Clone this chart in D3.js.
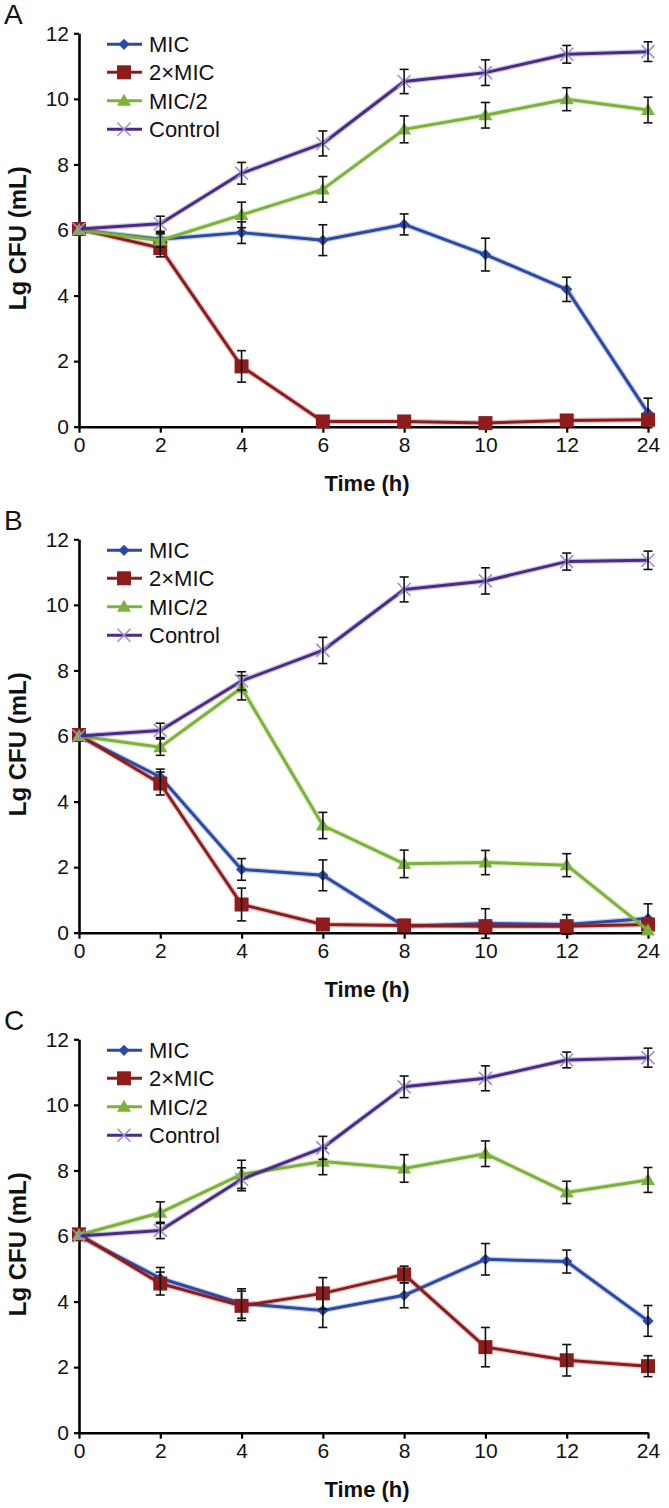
<!DOCTYPE html>
<html>
<head>
<meta charset="utf-8">
<script src="https://cdn.jsdelivr.net/npm/d3@7"></script>
<style>
html,body{margin:0;padding:0;background:#fff;}
svg{display:block;}
text{font-family:"Liberation Sans",Arial,sans-serif;}
</style>
</head>
<body>
<svg id="chart" width="669" height="1508"></svg>
<script>
// ---- data ----
const categories = ["0","2","4","6","8","10","12","24"];
const yTicks = [0,2,4,6,8,10,12];
const seriesNames = ["MIC","2\u00d7MIC","MIC/2","Control"];
const panelLabels = ["A","B","C"];

// Panel A
const A_MIC      = [6.0, 5.72, 5.92, 5.69, 6.17, 5.25, 4.19, 0.42];
const A_MIC_err  = [0.1, 0.2, 0.33, 0.47, 0.32, 0.5, 0.37, 0.45];
const A_2MIC     = [6.03, 5.45, 1.84, 0.16, 0.16, 0.11, 0.19, 0.21];
const A_2MIC_err = [0.1, 0.27, 0.48, 0.0, 0.0, 0.0, 0.0, 0.0];
const A_HALF     = [6.0, 5.68, 6.46, 7.24, 9.07, 9.5, 9.99, 9.66];
const A_HALF_err = [0.1, 0.2, 0.39, 0.39, 0.41, 0.39, 0.35, 0.39];
const A_CTRL     = [6.03, 6.19, 7.73, 8.64, 10.53, 10.8, 11.36, 11.44];
const A_CTRL_err = [0.1, 0.23, 0.33, 0.38, 0.37, 0.39, 0.27, 0.3];

// Panel B
const B_MIC      = [6.0, 4.75, 1.93, 1.75, 0.2, 0.28, 0.25, 0.43];
const B_MIC_err  = [0.1, 0.24, 0.33, 0.47, 0.2, 0.45, 0.3, 0.45];
const B_2MIC     = [6.03, 4.55, 0.86, 0.25, 0.22, 0.2, 0.2, 0.25];
const B_2MIC_err = [0.1, 0.35, 0.5, 0.0, 0.0, 0.0, 0.0, 0.0];
const B_HALF     = [6.0, 5.66, 7.47, 3.27, 2.1, 2.14, 2.06, 0.07];
const B_HALF_err = [0.1, 0.25, 0.37, 0.4, 0.42, 0.37, 0.35, 0.0];
const B_CTRL     = [6.0, 6.17, 7.68, 8.61, 10.47, 10.73, 11.32, 11.36];
const B_CTRL_err = [0.1, 0.22, 0.28, 0.4, 0.38, 0.4, 0.26, 0.28];

// Panel C
const C_MIC      = [6.0, 4.71, 3.94, 3.73, 4.19, 5.29, 5.22, 3.41];
const C_MIC_err  = [0.1, 0.33, 0.45, 0.52, 0.38, 0.48, 0.35, 0.47];
const C_2MIC     = [6.05, 4.55, 3.87, 4.25, 4.83, 2.61, 2.21, 2.03];
const C_2MIC_err = [0.1, 0.35, 0.45, 0.48, 0.25, 0.6, 0.48, 0.32];
const C_HALF     = [6.03, 6.71, 7.88, 8.27, 8.06, 8.51, 7.33, 7.71];
const C_HALF_err = [0.1, 0.33, 0.43, 0.4, 0.42, 0.39, 0.34, 0.38];
const C_CTRL     = [6.0, 6.17, 7.73, 8.69, 10.55, 10.81, 11.37, 11.44];
const C_CTRL_err = [0.1, 0.25, 0.35, 0.35, 0.33, 0.38, 0.24, 0.29];

const panels = [
  {label:"A", series:[[A_MIC,A_MIC_err],[A_2MIC,A_2MIC_err],[A_HALF,A_HALF_err],[A_CTRL,A_CTRL_err]]},
  {label:"B", series:[[B_MIC,B_MIC_err],[B_2MIC,B_2MIC_err],[B_HALF,B_HALF_err],[B_CTRL,B_CTRL_err]]},
  {label:"C", series:[[C_MIC,C_MIC_err],[C_2MIC,C_2MIC_err],[C_HALF,C_HALF_err],[C_CTRL,C_CTRL_err]]}
];

// ---- styles ----
const colors = ["#2b4aa8","#8e1c1c","#7db23a","#4b2a8a"];
const markerFill = ["#2b4aa8","#8e1c1c","#7db23a","#9c8fd6"];
const panelTops = [33.3, 539.3, 1039.3];
const plotH = 393.4;
const xLeft = 79, xRight = 648;

const svg = d3.select("#chart");

const x = d3.scalePoint().domain(categories).range([xLeft, xRight]);

function drawMarker(g, type, cx, cy, i) {
  if (type === 0) {
    g.append("path").attr("d", d3.symbol(d3.symbolDiamond2, 80)())
      .attr("transform", `translate(${cx},${cy})`).attr("fill", markerFill[i]);
  } else if (type === 1) {
    g.append("rect").attr("x", cx-7).attr("y", cy-7).attr("width", 14).attr("height", 14)
      .attr("fill", markerFill[i]);
  } else if (type === 2) {
    g.append("path").attr("d", d3.symbol(d3.symbolTriangle, 85)())
      .attr("transform", `translate(${cx},${cy+1})`).attr("fill", markerFill[i]);
  } else {
    g.append("path").attr("d", `M${cx-6.5},${cy-6.5}L${cx+6.5},${cy+6.5}M${cx-6.5},${cy+6.5}L${cx+6.5},${cy-6.5}`)
      .attr("stroke", markerFill[i]).attr("stroke-width", 1.6).attr("fill","none");
  }
}

panels.forEach((p, pi) => {
  const top = panelTops[pi];
  const y = d3.scaleLinear().domain([0, 12]).range([top + plotH, top]);
  const g = svg.append("g");

  // panel letter
  g.append("text").attr("x", 4).attr("y", top - 9).attr("font-size", 28)
    .attr("fill", "#111").text(p.label);

  // axes
  const yAxis = d3.axisLeft(y).tickValues(yTicks).tickSize(5).tickSizeOuter(0).tickPadding(5);
  const yg = g.append("g").attr("transform", `translate(${xLeft},0)`).call(yAxis);
  const xAxis = d3.axisBottom(x).tickSize(6).tickSizeOuter(0).tickPadding(4);
  const xg = g.append("g").attr("transform", `translate(0,${top + plotH})`).call(xAxis);
  [yg, xg].forEach(a => {
    a.select(".domain").attr("stroke", "#000").attr("stroke-width", 2.6);
    a.selectAll(".tick line").attr("stroke", "#000").attr("stroke-width", 2.2);
    a.selectAll(".tick text").attr("font-size", 21).attr("fill", "#111")
      .attr("font-family", "'Liberation Sans', Arial, sans-serif");
  });

  // axis titles
  g.append("text").attr("transform", `translate(26,${top + 205}) rotate(-90)`)
    .attr("text-anchor", "middle").attr("font-size", 24).attr("font-weight", "bold")
    .attr("fill", "#111").text("Lg CFU (mL)");
  g.append("text").attr("x", 367).attr("y", top + 458)
    .attr("text-anchor", "middle").attr("font-size", 22).attr("font-weight", "bold")
    .attr("fill", "#111").text("Time (h)");

  // series
  p.series.forEach((s, si) => {
    const vals = s[0], errs = s[1];
    const pts = categories.map((c, k) => [x(c), y(vals[k]), errs[k], vals[k]]);
    const line = d3.line().x(d => d[0]).y(d => d[1]);
    g.append("path").datum(pts).attr("d", line).attr("fill", "none")
      .attr("stroke", colors[si]).attr("stroke-opacity", 0.25).attr("stroke-width", 5.5)
      .attr("stroke-linejoin", "round");
    g.append("path").datum(pts).attr("d", line).attr("fill", "none")
      .attr("stroke", colors[si]).attr("stroke-width", 3).attr("stroke-linejoin", "round");
    pts.forEach(d => drawMarker(g, si, d[0], d[1], si));
    // error bars
    pts.forEach(d => {
      if (d[2] <= 0.12) return;
      const y1 = y(d[3] + d[2]), y2 = y(d[3] - d[2]);
      g.append("line").attr("x1", d[0]).attr("x2", d[0]).attr("y1", y1).attr("y2", y2)
        .attr("stroke", "#111").attr("stroke-width", 1.6);
      [y1, y2].forEach(yy => g.append("line").attr("x1", d[0]-4.5).attr("x2", d[0]+4.5)
        .attr("y1", yy).attr("y2", yy).attr("stroke", "#111").attr("stroke-width", 1.6));
    });
  });

  // legend
  const legOffsets = [11, 39, 67.5, 96];
  seriesNames.forEach((name, si) => {
    const ly = top + legOffsets[si];
    g.append("line").attr("x1", 107).attr("x2", 142).attr("y1", ly).attr("y2", ly)
      .attr("stroke", colors[si]).attr("stroke-width", 3);
    drawMarker(g, si, 124, ly, si);
    g.append("text").attr("x", 149).attr("y", ly).attr("dy", "0.36em")
      .attr("font-size", 22).attr("fill", "#111").text(name);
  });
});
</script>
</body>
</html>
